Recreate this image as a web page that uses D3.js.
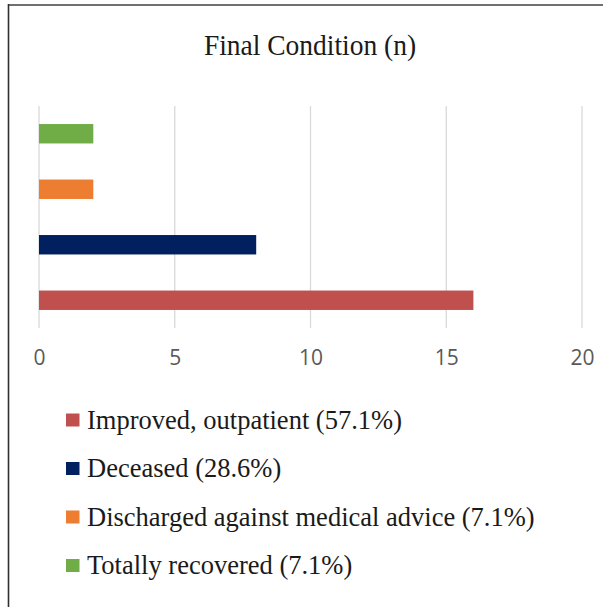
<!DOCTYPE html>
<html>
<head>
<meta charset="utf-8">
<script src="https://cdn.jsdelivr.net/npm/d3@7"></script>
<style>
  html, body { margin: 0; padding: 0; background: #fff; }
  svg { display: block; }
</style>
</head>
<body>
<svg id="chart" width="603" height="607"></svg>
<script>
// Final condition of patients (counts)
const categories = [
  "Totally recovered (7.1%)",
  "Discharged against medical advice (7.1%)",
  "Deceased (28.6%)",
  "Improved, outpatient (57.1%)"
];
const counts = [2, 2, 8, 16];
const colors = ["#70AD47", "#ED7D31", "#002060", "#C0504D"];
const tickValues = [0, 5, 10, 15, 20];
const legendOrder = [3, 2, 1, 0];
const title = "Final Condition (n)";

const svg = d3.select("#chart");
const serif = "'Liberation Serif', 'Times New Roman', serif";

// Frame
svg.append("rect")
  .attr("x", 0).attr("y", 0).attr("width", 603).attr("height", 607)
  .attr("fill", "#fff");
svg.append("line")
  .attr("x1", 8).attr("x2", 603).attr("y1", 5).attr("y2", 5)
  .attr("stroke", "#707070").attr("stroke-width", 2);
svg.append("line")
  .attr("x1", 8.5).attr("x2", 8.5).attr("y1", 4).attr("y2", 607)
  .attr("stroke", "#303030").attr("stroke-width", 1.6);

// Title (slightly tall lettering)
svg.append("text")
  .attr("transform", "translate(310,54.5) scale(1,1.1)")
  .attr("text-anchor", "middle")
  .attr("font-family", serif)
  .attr("font-size", 27.5)
  .attr("fill", "#1a1a1a")
  .text(title);

// Scales
const x = d3.scaleLinear().domain([0, 20]).range([39, 582]);
const y = d3.scaleBand()
  .domain(categories)
  .range([106, 328])
  .paddingInner(0.65)
  .paddingOuter(0.325);

// Vertical gridlines
svg.append("g")
  .selectAll("line")
  .data(tickValues)
  .join("line")
  .attr("x1", d => x(d)).attr("x2", d => x(d))
  .attr("y1", 106).attr("y2", 328)
  .attr("stroke", "#d9d9d9")
  .attr("stroke-width", 1.3);

// Bars
svg.append("g")
  .selectAll("rect")
  .data(categories)
  .join("rect")
  .attr("x", x(0))
  .attr("y", d => y(d))
  .attr("width", (d, i) => x(counts[i]) - x(0))
  .attr("height", y.bandwidth())
  .attr("fill", (d, i) => colors[i]);

// Value axis labels
const axis = d3.axisBottom(x).tickValues(tickValues).tickSize(0).tickPadding(0);
const gAxis = svg.append("g")
  .attr("transform", "translate(0,358)")
  .call(axis);
gAxis.select(".domain").remove();
gAxis.selectAll("text")
  .attr("dy", "0.35em")
  .attr("font-family", "'Open Sans', 'Liberation Sans', sans-serif")
  .attr("font-size", 21)
  .attr("fill", "#595959");

// Legend
const legend = svg.append("g")
  .selectAll("g")
  .data(legendOrder)
  .join("g")
  .attr("transform", (d, i) => `translate(66,${420 + i * 48.5})`);
legend.append("rect")
  .attr("x", 0).attr("y", -6.5)
  .attr("width", 13.5).attr("height", 13)
  .attr("fill", d => colors[d]);
legend.append("text")
  .attr("x", 21).attr("y", 8.7)
  .attr("font-family", serif)
  .attr("font-size", 26.5)
  .attr("fill", "#1a1a1a")
  .text(d => categories[d]);
</script>
</body>
</html>
